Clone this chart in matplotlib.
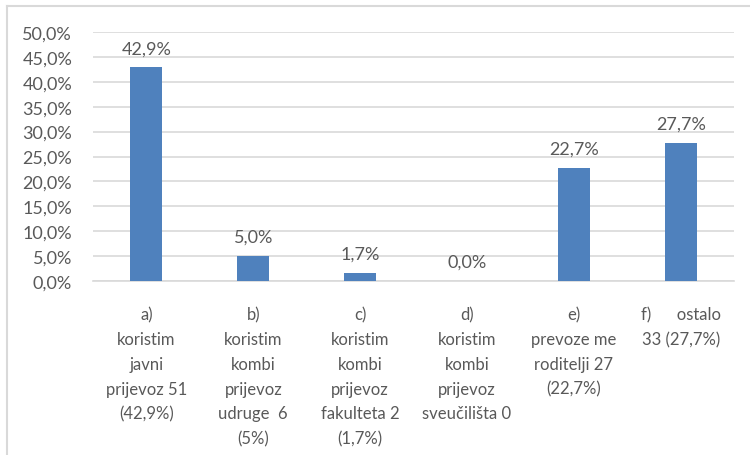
import matplotlib.pyplot as plt
from matplotlib.lines import Line2D

categories = [
    "a)\nkoristim\njavni\nprijevoz 51\n(42,9%)",
    "b)\nkoristim\nkombi\nprijevoz\nudruge  6\n(5%)",
    "c)\nkoristim\nkombi\nprijevoz\nfakulteta 2\n(1,7%)",
    "d)\nkoristim\nkombi\nprijevoz\nsveučilišta 0",
    "e)\nprevoze me\nroditelji 27\n(22,7%)",
    "f)      ostalo\n33 (27,7%)",
]
values = [42.9, 5.0, 1.7, 0.0, 22.7, 27.7]
y_ticks = [0, 5, 10, 15, 20, 25, 30, 35, 40, 45, 50]

text_col = "#595959"
bar_col = "#4F81BD"
grid_col = "#D9D9D9"

plt.rcParams["font.family"] = ["Lato", "DejaVu Sans"]

fig = plt.figure(figsize=(7.5, 4.56), dpi=100)
ax = fig.add_axes([0.124, 0.3816, 0.855, 0.546])

x = list(range(len(values)))
ax.bar(x, values, width=0.3, color=bar_col, zorder=3)

for xi, v in zip(x, values):
    ax.annotate(f"{v:.1f}%".replace(".", ","), (xi, v), xytext=(0, 8),
                textcoords="offset points", ha="center", va="bottom",
                fontsize=13, color=text_col)

ax.set_xlim(-0.5, len(values) - 0.5)
ax.set_ylim(0, 50)
ax.set_yticks(y_ticks)
ax.set_yticklabels([f"{t:.1f}%".replace(".", ",") for t in y_ticks],
                   fontsize=13, color=text_col)
ax.set_xticks(x)
ax.set_xticklabels(categories, fontsize=12, color=text_col, linespacing=1.68)

ax.tick_params(axis="y", length=0, pad=15)
ax.tick_params(axis="x", length=0, pad=18)
ax.grid(axis="y", color=grid_col, linewidth=1.2, zorder=0)
for s in ["top", "right", "left"]:
    ax.spines[s].set_visible(False)
ax.spines["bottom"].set_color(grid_col)
ax.spines["bottom"].set_linewidth(1.2)

# chart border (left and top visible, rest cropped)
fig.add_artist(Line2D([7 / 750, 7 / 750], [0, 1 - 7 / 456], color=grid_col,
                      linewidth=1.5, transform=fig.transFigure))
fig.add_artist(Line2D([7 / 750, 1], [1 - 7 / 456, 1 - 7 / 456], color=grid_col,
                      linewidth=1.5, transform=fig.transFigure))

fig.savefig("out.png", dpi=100)
